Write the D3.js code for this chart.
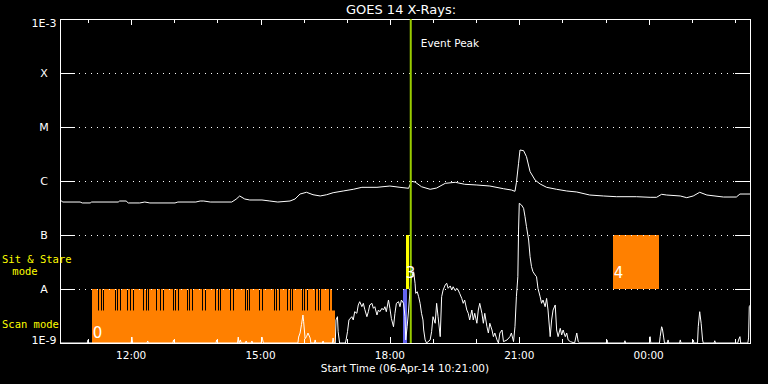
<!DOCTYPE html>
<html>
<head>
<meta charset="utf-8">
<script src="https://cdn.jsdelivr.net/npm/d3@7"></script>
<style>
  body { margin: 0; background: #000; }
  svg { display: block; font-family: "DejaVu Sans", sans-serif; }
</style>
</head>
<body>
<script>
// flux levels on the left axis
var levelNames = ["1E-9", "A", "B", "C", "M", "X", "1E-3"];
var levelValues = [1e-9, 1e-8, 1e-7, 1e-6, 1e-5, 1e-4, 1e-3];

// GOES long channel (1-8 A)
var longTimes = ["10:21","10:25","10:49","10:52","11:03","11:05","11:42","11:44","11:53","11:56",
  "12:12","12:19","12:26","13:01","13:05","13:30","13:36","13:41","13:50","14:20",
  "14:26","14:31","14:38","14:45","15:02","15:13","15:24","15:41","15:48","15:55",
  "16:04","16:13","16:23","16:32","16:41","16:55","17:09","17:21","17:42","18:00",
  "18:14","18:26","18:30","18:35","18:44","18:56","19:05","19:17","19:31","19:44",
  "20:01","20:19","20:38","20:49","20:54","20:56","20:59","21:01","21:06","21:10",
  "21:15","21:22","21:29","21:38","21:52","22:06","22:20","22:38","22:57","23:15",
  "23:43","00:02","00:11","00:18","00:25","00:44","00:53","01:02","01:11","01:21",
  "01:44","02:02","02:07","02:21"];
var longFlux = [4.45e-7,4.08e-7,4.08e-7,3.92e-7,3.92e-7,4.08e-7,4.08e-7,4.26e-7,4.26e-7,3.92e-7,
  3.92e-7,4.08e-7,3.92e-7,3.92e-7,4.08e-7,4.08e-7,4.26e-7,4.26e-7,4.08e-7,4.08e-7,
  4.6e-7,5.28e-7,4.64e-7,4.45e-7,4.45e-7,4.26e-7,4.08e-7,4.26e-7,4.64e-7,5.74e-7,
  6.18e-7,5.57e-7,5.28e-7,5.57e-7,6.07e-7,6.53e-7,7.02e-7,7.64e-7,7.64e-7,8.07e-7,
  7.64e-7,7.33e-7,9.87e-7,9.57e-7,7.83e-7,7.02e-7,7.41e-7,9.06e-7,9.46e-7,8.69e-7,
  8.43e-7,8.07e-7,7.2e-7,6.81e-7,6.44e-7,9.3e-7,2.13e-6,3.75e-6,3.64e-6,2.82e-6,
  1.49e-6,1.04e-6,8.8e-7,7.64e-7,7.02e-7,6.53e-7,6.26e-7,5.5e-7,5.28e-7,5.12e-7,
  5.12e-7,4.99e-7,4.99e-7,5.67e-7,5.5e-7,5.28e-7,4.91e-7,5.28e-7,6.18e-7,5.5e-7,
  5.05e-7,5.05e-7,5.74e-7,5.74e-7];

// GOES short channel (0.5-4 A)
var shortTimes = ["10:21","10:59","11:00","11:01","12:00","12:01","12:02","12:22","12:23","12:24",
  "12:58","12:59","13:00","13:58","13:59","14:00","14:28","14:29","14:30","14:32",
  "14:33","14:39","14:40","14:41","14:47","14:48","14:49","15:01","15:02","15:03",
  "15:04","15:52","15:53","15:55","15:57","15:59","16:00","16:02","16:04","16:06",
  "16:09","16:10","16:15","16:16","16:17","16:26","16:27","16:28","16:40","16:41",
  "16:42","16:44","16:45","16:47","16:48","16:50","16:58","16:59","17:01","17:03",
  "17:07","17:09","17:11","17:14","17:16","17:18","17:21","17:23","17:25","17:28",
  "17:30","17:32","17:35","17:37","17:39","17:42","17:44","17:46","17:49","17:51",
  "17:53","17:55","17:58","18:00","18:02","18:05","18:07","18:09","18:12","18:14",
  "18:16","18:19","18:21","18:22","18:24","18:26","18:28","18:30","18:33","18:35",
  "18:36","18:38","18:40","18:42","18:44","18:46","18:47","18:49","18:51","18:56",
  "18:58","19:00","19:03","19:05","19:07","19:10","19:12","19:14","19:17","19:19",
  "19:21","19:24","19:26","19:28","19:31","19:33","19:35","19:37","19:40","19:42",
  "19:44","19:47","19:49","19:51","19:54","19:56","19:58","20:01","20:03","20:05",
  "20:08","20:10","20:12","20:15","20:17","20:19","20:22","20:24","20:26","20:29",
  "20:31","20:33","20:36","20:38","20:43","20:47","20:49","20:52","20:54","20:56",
  "20:58","20:59","21:00","21:03","21:06","21:08","21:10","21:13","21:15","21:17",
  "21:19","21:22","21:24","21:26","21:29","21:31","21:33","21:36","21:38","21:40",
  "21:43","21:45","21:47","21:50","21:52","21:54","21:57","21:59","22:01","22:04",
  "22:06","22:08","22:11","22:17","22:20","22:22","22:24","23:01","23:02","23:03",
  "23:26","23:27","23:28","00:01","00:02","00:03","00:15","00:16","00:18","00:19",
  "00:21","00:22","00:26","00:27","00:28","00:43","00:44","00:45","01:01","01:02",
  "01:03","01:08","01:09","01:11","01:13","01:15","01:16","01:31","01:32","01:33",
  "02:04","02:05","02:07","02:08","02:18","02:19","02:20","02:21"];
var shortFlux = [1e-9,1e-9,1.14e-9,1e-9,1e-9,1.29e-9,1e-9,1e-9,1.09e-9,1e-9,
  1e-9,1.14e-9,1e-9,1e-9,1.14e-9,1e-9,1e-9,1.29e-9,1e-9,1.14e-9,
  1e-9,1e-9,1.09e-9,1e-9,1e-9,1.09e-9,1e-9,1e-9,1.29e-9,1.14e-9,
  1e-9,1e-9,1.29e-9,1.53e-9,2.2e-9,3.3e-9,2.48e-9,1.2e-9,1.31e-9,1.53e-9,
  1.24e-9,1e-9,1e-9,1.14e-9,1e-9,1e-9,1.09e-9,1e-9,1e-9,1.24e-9,
  1e-9,1e-9,2.67e-9,3.07e-9,1.62e-9,1e-9,1e-9,1.14e-9,1.62e-9,2.67e-9,
  3.07e-9,2.67e-9,3.8e-9,3.55e-9,5.06e-9,5.82e-9,4.7e-9,5.43e-9,4.2e-9,3.07e-9,
  3.8e-9,5.06e-9,5.43e-9,4.39e-9,4.7e-9,3.3e-9,4.08e-9,3.8e-9,4.39e-9,4.08e-9,
  4.7e-9,3.8e-9,6.25e-9,4.39e-9,2.86e-9,2.0e-9,3.55e-9,5.43e-9,5.82e-9,4.7e-9,
  6.25e-9,5.43e-9,3.07e-9,1.14e-9,2.0e-9,4.08e-9,9.57e-9,1.69e-8,2.09e-8,1.28e-8,
  8.3e-9,8.9e-9,7.2e-9,5.43e-9,3.55e-9,2.67e-9,1.74e-9,1.14e-9,1e-9,1.14e-9,
  1.62e-9,3.07e-9,2.32e-9,5.43e-9,3.07e-9,1.31e-9,7.2e-9,9.57e-9,1.19e-8,1.28e-8,
  1.03e-8,1.14e-8,9.57e-9,1.1e-8,9.3e-9,1.03e-8,9.57e-9,8.3e-9,6.7e-9,5.43e-9,
  6.25e-9,4.08e-9,3.55e-9,2.67e-9,4.08e-9,2.67e-9,3.55e-9,2.32e-9,4.08e-9,5.43e-9,
  3.55e-9,2.32e-9,3.55e-9,2.0e-9,1.53e-9,2.32e-9,1.74e-9,1.31e-9,1.53e-9,1.14e-9,
  1e-9,1.53e-9,1.74e-9,1.06e-9,1.14e-9,1.31e-9,1.53e-9,1.06e-9,2.0e-9,7.2e-9,
  1.69e-8,1.24e-7,3.86e-7,3.6e-7,3.12e-7,2.18e-7,1.43e-7,8.08e-8,3.96e-8,2.59e-8,
  2.09e-8,1.82e-8,1.69e-8,1.03e-8,7.2e-9,5.43e-9,6.25e-9,4.7e-9,6.7e-9,4.08e-9,
  1.31e-9,2.67e-9,4.08e-9,5.06e-9,1.74e-9,1.31e-9,1.87e-9,1.41e-9,1.74e-9,1.31e-9,
  1.53e-9,1.14e-9,1.06e-9,1e-9,1.53e-9,1.06e-9,1e-9,1e-9,1.14e-9,1e-9,
  1e-9,1.1e-9,1e-9,1e-9,1.31e-9,1e-9,1e-9,1.31e-9,2.0e-9,1.87e-9,
  1.24e-9,1e-9,1e-9,1.14e-9,1e-9,1e-9,1.14e-9,1e-9,1e-9,1.14e-9,
  1e-9,1e-9,2.0e-9,3.8e-9,2.32e-9,1.14e-9,1e-9,1e-9,1.1e-9,1e-9,
  1e-9,1.14e-9,1.31e-9,1e-9,1e-9,1.24e-9,4.7e-9,5e-9];

// observation blocks
var scanSpan = ["11:05", "16:44"];        // scan mode (block 0)
var scanBandEnd = "16:40";
var scanGaps = ["11:14","11:18","11:21","11:37","11:40","11:44","11:54","11:58","12:02",
  "12:17","12:21","12:24","12:35","12:40","12:44","12:58","13:01","13:05","13:17","13:21",
  "13:24","13:39","13:43","13:57","14:01","14:04","14:18","14:22","14:38","14:41","14:44",
  "14:58","15:02","15:19","15:22","15:26","15:37","15:41","15:44","15:57","16:00","16:04",
  "16:16","16:20","16:23","16:35"];
var blueBar = ["18:18", "18:24"];
var yellowBar = ["18:22", "18:27"];       // sit & stare (block 3)
var block4 = ["23:10", "00:14"];          // sit & stare (block 4)
var eventPeak = "18:29";

var width = 768, height = 384;
var parse = d3.timeParse("%Y-%m-%d %H:%M");
function t(s) {
    var h = +s.split(":")[0];
    return parse((h < 10 ? "2014-04-07 " : "2014-04-06 ") + s);
}

var x = d3.scaleTime().domain([t("10:21"), t("02:21")]).range([60, 750]);
var y = d3.scaleLog().domain([1e-9, 1e-3]).range([343, 19]).clamp(true);

var svg = d3.select("body").append("svg")
    .attr("width", width)
    .attr("height", height)
    .style("background", "#000");

// scan mode block
svg.append("rect")
    .attr("x", Math.round(x(t(scanSpan[0]))))
    .attr("y", y(1e-8))
    .attr("width", Math.round(x(t(scanSpan[1]))) - Math.round(x(t(scanSpan[0]))))
    .attr("height", y(1e-9) - y(1e-8))
    .attr("fill", "#ff8000");

var bandBottom = y(4e-9);
svg.append("rect")
    .attr("x", Math.round(x(t(scanBandEnd))))
    .attr("y", y(1e-8))
    .attr("width", Math.round(x(t(scanSpan[1]))) - Math.round(x(t(scanBandEnd))))
    .attr("height", bandBottom - y(1e-8))
    .attr("fill", "#000");

svg.append("g").selectAll("rect")
    .data(scanGaps)
    .enter().append("rect")
    .attr("x", function(d) { return Math.round(x(t(d))); })
    .attr("y", y(1e-8))
    .attr("width", 1)
    .attr("height", bandBottom - y(1e-8))
    .attr("fill", "#000");

// sit & stare blocks
svg.append("rect")
    .attr("x", Math.round(x(t(blueBar[0]))))
    .attr("y", y(1e-8))
    .attr("width", Math.round(x(t(blueBar[1]))) - Math.round(x(t(blueBar[0]))))
    .attr("height", y(1e-9) - y(1e-8))
    .attr("fill", "#6464f0");

svg.append("rect")
    .attr("x", Math.round(x(t(yellowBar[0]))))
    .attr("y", y(1e-7))
    .attr("width", Math.round(x(t(yellowBar[1]))) - Math.round(x(t(yellowBar[0]))))
    .attr("height", y(1e-8) - y(1e-7))
    .attr("fill", "#ffff00");

svg.append("rect")
    .attr("x", Math.round(x(t(block4[0]))))
    .attr("y", y(1e-7))
    .attr("width", Math.round(x(t(block4[1]))) - Math.round(x(t(block4[0]))))
    .attr("height", y(1e-8) - y(1e-7))
    .attr("fill", "#ff8000");

// frame
svg.append("rect")
    .attr("x", 60.5).attr("y", 19.5)
    .attr("width", 690).attr("height", 324)
    .attr("fill", "none")
    .attr("stroke", "#fff")
    .attr("shape-rendering", "crispEdges");

// level ticks and dotted grid
var inner = levelValues.slice(1, -1);
var grid = svg.append("g").attr("shape-rendering", "crispEdges");
inner.forEach(function(v) {
    var yy = Math.round(y(v)) + 0.5;
    grid.append("line").attr("x1", 60).attr("x2", 75).attr("y1", yy).attr("y2", yy).attr("stroke", "#fff");
    grid.append("line").attr("x1", 735).attr("x2", 750).attr("y1", yy).attr("y2", yy).attr("stroke", "#fff");
    grid.append("line").attr("x1", 79).attr("x2", 735).attr("y1", yy).attr("y2", yy)
        .attr("stroke", "#fff").attr("stroke-dasharray", "1,5");
});

// time ticks on top and bottom
var hours = x.ticks(d3.timeHour.every(1));
var majors = x.ticks(d3.timeHour.every(3));
var tickG = svg.append("g").attr("shape-rendering", "crispEdges");
hours.forEach(function(h) {
    var xx = Math.round(x(h)) + 0.5;
    var len = h.getHours() % 3 === 0 ? 6 : 4;
    tickG.append("line").attr("x1", xx).attr("x2", xx).attr("y1", 19).attr("y2", 19 + len).attr("stroke", "#fff");
    tickG.append("line").attr("x1", xx).attr("x2", xx).attr("y1", 343).attr("y2", 343 - len).attr("stroke", "#fff");
});

svg.append("g").selectAll("text")
    .data(majors)
    .enter().append("text")
    .attr("x", function(d) { return x(d); })
    .attr("y", 359)
    .attr("text-anchor", "middle")
    .attr("fill", "#fff")
    .style("font-size", "10.5px")
    .text(d3.timeFormat("%H:%M"));

// level labels
svg.append("g").selectAll("text")
    .data(levelValues)
    .enter().append("text")
    .attr("x", 44)
    .attr("y", function(d, i) {
        if (i === 0) return y(d) + 1;
        if (i === levelValues.length - 1) return y(d) + 8;
        return y(d) + 4;
    })
    .attr("text-anchor", "middle")
    .attr("fill", "#fff")
    .style("font-size", "11px")
    .text(function(d, i) { return levelNames[i]; });

// flux curves
var line = d3.line()
    .x(function(d) { return x(d[0]); })
    .y(function(d) { return y(d[1]); });

svg.append("path")
    .datum(longTimes.map(function(s, i) { return [t(s), longFlux[i]]; }))
    .attr("d", line)
    .attr("fill", "none")
    .attr("stroke", "#fff")
    .attr("stroke-width", 1);

svg.append("path")
    .datum(shortTimes.map(function(s, i) { return [t(s), shortFlux[i]]; }))
    .attr("d", line)
    .attr("fill", "none")
    .attr("stroke", "#fff")
    .attr("stroke-width", 1);

// event peak
var xp = x(t(eventPeak));
svg.append("line")
    .attr("x1", xp).attr("x2", xp)
    .attr("y1", 19).attr("y2", 343)
    .attr("stroke", "#99cc00")
    .attr("stroke-width", 2);

svg.append("text")
    .attr("x", xp + 10).attr("y", 47)
    .attr("fill", "#fff")
    .style("font-size", "10.5px")
    .text("Event Peak");

// block numbers
svg.append("text").attr("x", x(t(scanSpan[0])) + 1).attr("y", 338)
    .attr("fill", "#fff").style("font-size", "15px").text("0");
svg.append("text").attr("x", x(t(yellowBar[0]))).attr("y", 278)
    .attr("fill", "#fff").style("font-size", "15px").text("3");
svg.append("text").attr("x", x(t(block4[0])) + 1).attr("y", 278)
    .attr("fill", "#fff").style("font-size", "15px").text("4");

// mode labels
var modeFont = '"DejaVu Sans Mono", monospace';
svg.append("text").attr("x", 2).attr("y", 263).attr("fill", "#ffff00")
    .style("font-family", modeFont).style("font-size", "10.5px").text("Sit & Stare");
svg.append("text").attr("x", 25).attr("y", 275).attr("fill", "#ffff00")
    .attr("text-anchor", "middle")
    .style("font-family", modeFont).style("font-size", "10.5px").text("mode");
svg.append("text").attr("x", 2).attr("y", 328).attr("fill", "#ffff00")
    .style("font-family", modeFont).style("font-size", "10.5px").text("Scan mode");

// titles
svg.append("text")
    .attr("x", 401).attr("y", 14)
    .attr("text-anchor", "middle")
    .attr("fill", "#fff")
    .style("font-size", "13px")
    .text("GOES 14 X-Rays:");

svg.append("text")
    .attr("x", 405).attr("y", 372)
    .attr("text-anchor", "middle")
    .attr("fill", "#fff")
    .style("font-size", "10.5px")
    .text("Start Time (06-Apr-14 10:21:00)");
</script>
</body>
</html>
